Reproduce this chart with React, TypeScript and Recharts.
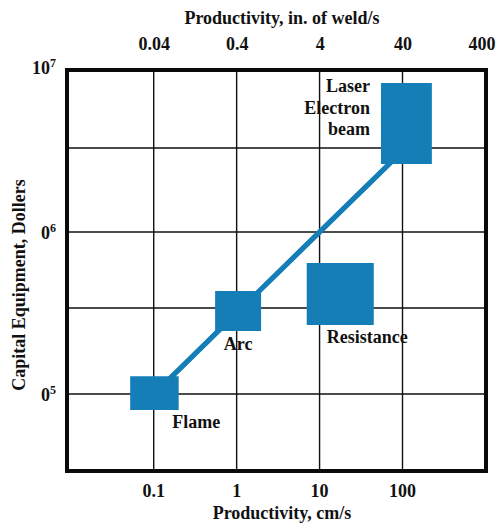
import {
  ComposedChart,
  Line,
  XAxis,
  YAxis,
  CartesianGrid,
  ReferenceArea,
} from "recharts";

// productivity in cm/s (bottom) and in. of weld/s (top), capital cost in dollars
const CM_PER_IN = 2.54;
const rateDomain = [0.009, 1016];
const inchDomain = [0.009 / CM_PER_IN, 400];
const costDomain = [33500, 1e7];

const rateTicks = [0.1, 1, 10, 100];
const inchTicks = [0.04, 0.4, 4, 40, 400];
const costTicks = [1e5, 3.4e5, 1e6, 3.3e6, 1e7];
const costTickBase = ["0", "", "0", "", "10"];
const costTickExp = ["5", "", "6", "", "7"];

// process boxes
const processNames = ["Flame", "Arc", "Resistance", "Laser\nElectron\nbeam"];
const rateLow = [0.052, 0.55, 7.0, 55];
const rateHigh = [0.2, 1.97, 45, 226];
const costLow = [7.96e4, 2.45e5, 2.67e5, 2.63e6];
const costHigh = [1.29e5, 4.33e5, 6.44e5, 8.3e6];

// trend line through the boxes
const trendRate = [0.113, 1, 10, 93];
const trendCost = [1.06e5, 3.16e5, 1e6, 3.05e6];

const BLUE = "#157eb7";
const INK = "#111";
const FONT = "'Liberation Serif', 'Times New Roman', serif";

const textStyle = {
  fontFamily: FONT,
  fontWeight: "bold" as const,
  fontSize: 18,
  fill: INK,
};

const trend = trendRate.map((r, i) => ({
  rate: r,
  inch: r / CM_PER_IN,
  cost: trendCost[i],
}));

function BottomTick({ x, y, payload }: any) {
  return (
    <text x={x} y={y + 26} textAnchor="middle" {...textStyle}>
      {payload.value}
    </text>
  );
}

function TopTick({ x, y, payload }: any) {
  // last label sits on the right border, nudge it in so it isn't clipped
  const last = payload.value === inchTicks[inchTicks.length - 1];
  return (
    <text x={last ? x - 4 : x} y={y - 20} textAnchor="middle" {...textStyle}>
      {payload.value}
    </text>
  );
}

function CostTick({ x, y, payload }: any) {
  const i = costTicks.indexOf(payload.value);
  if (i < 0 || !costTickBase[i]) return <g />;
  const dy = i === costTicks.length - 1 ? 4 : 7;
  return (
    <text x={x - 11} y={y + dy} textAnchor="end" {...textStyle}>
      <tspan>{costTickBase[i]}</tspan>
      <tspan dy={-7} fontSize={12}>
        {costTickExp[i]}
      </tspan>
    </text>
  );
}

const processLabel = (i: number) => (props: any) => {
  const vb = props.viewBox || {};
  const bottom = vb.y + vb.height;
  const lines = processNames[i].split("\n");
  if (i === 0)
    return (
      <text x={vb.x + 42} y={bottom + 18} textAnchor="start" {...textStyle}>
        {lines[0]}
      </text>
    );
  if (i === 1)
    return (
      <text x={vb.x + vb.width / 2} y={bottom + 19} textAnchor="middle" {...textStyle}>
        {lines[0]}
      </text>
    );
  if (i === 2)
    return (
      <text x={vb.x + 20} y={bottom + 18} textAnchor="start" {...textStyle}>
        {lines[0]}
      </text>
    );
  return (
    <text textAnchor="end" {...textStyle}>
      {lines.map((l, k) => (
        <tspan key={l} x={vb.x - 11} y={vb.y + 9 + k * 21.5}>
          {l}
        </tspan>
      ))}
    </text>
  );
};

export default function App() {
  return (
    <div style={{ position: "absolute", left: 0, top: 0 }}>
      <ComposedChart
        width={496}
        height={524}
        data={trend}
        margin={{ top: 0, right: 10, bottom: 0, left: 0 }}
      >
        <CartesianGrid stroke={INK} strokeWidth={1.4} />
        <XAxis
          dataKey="rate"
          type="number"
          scale="log"
          domain={rateDomain}
          allowDataOverflow
          ticks={rateTicks}
          interval={0}
          height={53}
          axisLine={false}
          tickLine={false}
          tickSize={0}
          tickMargin={0}
          tick={<BottomTick />}
          label={{
            content: () => (
              <text x={282} y={519} textAnchor="middle" {...textStyle}>
                Productivity, cm/s
              </text>
            ),
          }}
        />
        <XAxis
          xAxisId="top"
          dataKey="inch"
          orientation="top"
          type="number"
          scale="log"
          domain={inchDomain}
          allowDataOverflow
          ticks={inchTicks}
          interval={0}
          height={70}
          axisLine={false}
          tickLine={false}
          tickSize={0}
          tickMargin={0}
          tick={<TopTick />}
          label={{
            content: () => (
              <text x={282} y={24} textAnchor="middle" {...textStyle}>
                Productivity, in. of weld/s
              </text>
            ),
          }}
        />
        <YAxis
          type="number"
          scale="log"
          domain={costDomain}
          allowDataOverflow
          ticks={costTicks}
          interval={0}
          width={67}
          axisLine={false}
          tickLine={false}
          tickSize={0}
          tickMargin={0}
          tick={<CostTick />}
          label={{
            content: () => (
              <text
                x={19}
                y={285}
                textAnchor="middle"
                transform="rotate(-90 19 285)"
                dominantBaseline="central"
                {...textStyle}
              >
                Capital Equipment, Dollers
              </text>
            ),
          }}
        />
        {/* same trend in in/s, keeps the top axis alive; drawn over the visible line */}
        <Line
          xAxisId="top"
          dataKey="cost"
          type="linear"
          stroke={BLUE}
          strokeWidth={5}
          dot={false}
          activeDot={false}
          isAnimationActive={false}
        />
        <Line
          dataKey="cost"
          type="linear"
          stroke={BLUE}
          strokeWidth={5}
          dot={false}
          activeDot={false}
          isAnimationActive={false}
        />
        {processNames.map((name, i) => (
          <ReferenceArea
            key={name}
            x1={rateLow[i]}
            x2={rateHigh[i]}
            y1={costLow[i]}
            y2={costHigh[i]}
            fill={BLUE}
            fillOpacity={1}
            stroke="none"
            label={processLabel(i)}
          />
        ))}
        <ReferenceArea
          x1={rateDomain[0]}
          x2={rateDomain[1]}
          y1={costDomain[0]}
          y2={costDomain[1]}
          fill="none"
          stroke="#0a0a0a"
          strokeWidth={4}
        />
      </ComposedChart>
    </div>
  );
}
